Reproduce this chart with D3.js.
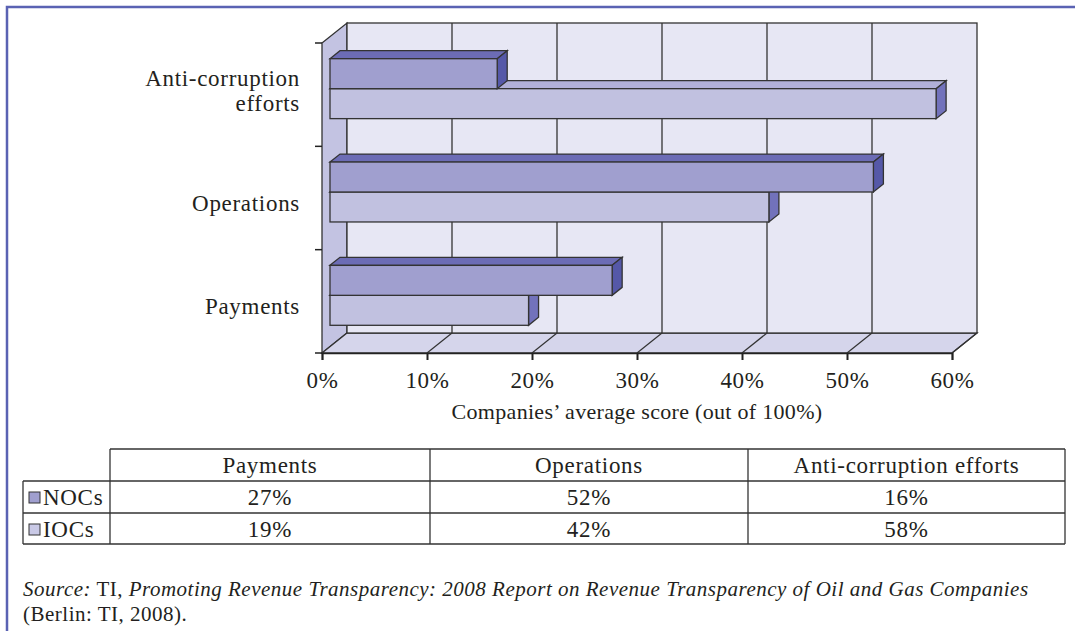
<!DOCTYPE html>
<html lang="en">
<head>
  <meta charset="utf-8">
  <script src="https://d3js.org/d3.v7.min.js"></script>
  <style>
    body {
      margin: 0;
      background: #fff;
    }

    text {
      font-family: "Liberation Serif", serif;
      fill: #231f20;
    }

    .lbl {
      font-size: 23px;
      letter-spacing: 0.7px;
    }

    .edge {
      stroke: #333;
      stroke-width: 1.3px;
    }
  </style>
</head>
<body>
<div id="chart"></div>
<script>
  // data
  var categories = ["Anti-corruption efforts", "Operations", "Payments"];
  var series = ["NOCs", "IOCs"];
  var nocs = [16, 52, 27];
  var iocs = [58, 42, 19];
  var xTicks = [0, 10, 20, 30, 40, 50, 60];
  var tableCols = ["Payments", "Operations", "Anti-corruption efforts"];
  var tableNocs = ["27%", "52%", "16%"];
  var tableIocs = ["19%", "42%", "58%"];

  var W = 1075, H = 631;
  var depth = {dx: 25, dy: -20};     // back wall offset
  var barShift = {dx: 8, dy: -6};     // bar plane offset
  var barDepth = {dx: 10, dy: -8};

  var svg = d3.select("#chart").append("svg")
          .attr("width", W)
          .attr("height", H);

  // frame
  svg.append("path")
          .attr("d", "M7,631 V7 H1075")
          .attr("fill", "none")
          .attr("stroke", "#5a62b3")
          .attr("stroke-width", 2.5);

  var x = d3.scaleLinear().domain([0, 60]).range([322, 952]);
  var y = d3.scaleBand().domain(categories).range([43, 353]);
  var xb = d3.scaleLinear().domain([0, 60]).range([x(0) + barShift.dx, x(60) + barShift.dx - 3]);
  var yb = d3.scaleBand().domain(categories)
          .range([43 + barShift.dy, 353 + barShift.dy])
          .paddingInner(0.42).paddingOuter(0.21);
  var ys = d3.scaleBand().domain(series).range([0, yb.bandwidth()]);

  var yTop = y.range()[0], yBot = y.range()[1];
  var x0 = x(0), x1 = x(60);

  function poly(pts) {
    return "M" + pts.map(function (p) { return p.join(","); }).join("L") + "Z";
  }

  // walls
  svg.append("path").attr("class", "edge")
          .attr("d", poly([[x0, yTop], [x0 + depth.dx, yTop + depth.dy], [x0 + depth.dx, yBot + depth.dy], [x0, yBot]]))
          .attr("fill", "#c3c3e2");
  svg.append("path").attr("class", "edge")
          .attr("d", poly([[x0, yBot], [x0 + depth.dx, yBot + depth.dy], [x1 + depth.dx, yBot + depth.dy], [x1, yBot]]))
          .attr("fill", "#d5d5eb");
  svg.append("rect").attr("class", "edge")
          .attr("x", x0 + depth.dx).attr("y", yTop + depth.dy)
          .attr("width", x1 - x0).attr("height", yBot - yTop)
          .attr("fill", "#e7e7f4");

  // grid on back wall and floor
  svg.selectAll(".grid").data(xTicks.slice(1, -1)).enter().append("line")
          .attr("class", "edge grid")
          .attr("x1", function (d) { return x(d) + depth.dx; })
          .attr("x2", function (d) { return x(d) + depth.dx; })
          .attr("y1", yTop + depth.dy).attr("y2", yBot + depth.dy);
  svg.selectAll(".floorgrid").data(xTicks.slice(1)).enter().append("line")
          .attr("class", "edge floorgrid")
          .attr("x1", function (d) { return x(d); })
          .attr("x2", function (d) { return x(d) + depth.dx; })
          .attr("y1", yBot).attr("y2", yBot + depth.dy);

  // axes
  var xAxis = d3.axisBottom(x).tickValues(xTicks).tickSize(7).tickPadding(12)
          .tickFormat(function (d) { return d + "%"; });
  var gX = svg.append("g").attr("transform", "translate(0," + yBot + ")").call(xAxis);
  gX.attr("font-size", null).attr("font-family", null);
  gX.select(".domain").attr("stroke", "#222").attr("stroke-width", 1.5);
  gX.selectAll(".tick line").attr("stroke", "#222").attr("stroke-width", 2);
  gX.selectAll(".tick text").attr("class", "lbl").attr("fill", "#231f20");

  var catTicks = [yTop].concat(categories.map(function (c) { return y(c) + y.bandwidth(); }));
  svg.selectAll(".ctick").data(catTicks).enter().append("line")
          .attr("x1", x0 - 7).attr("x2", x0)
          .attr("y1", function (d) { return d; }).attr("y2", function (d) { return d; })
          .attr("stroke", "#222").attr("stroke-width", 1.5);

  // category labels
  svg.selectAll(".cat").data(categories).enter().append("text")
          .attr("class", "lbl cat")
          .attr("text-anchor", "end")
          .attr("x", 300)
          .attr("y", function (d) { return y(d) + y.bandwidth() / 2 + 13; })
          .each(function (d) {
            var parts = d === "Anti-corruption efforts" ? ["Anti-corruption", "efforts"] : [d];
            var t = d3.select(this);
            if (parts.length > 1) t.attr("y", y(d) + y.bandwidth() / 2 - 9);
            parts.forEach(function (p, i) {
              t.append("tspan").attr("x", 300).attr("dy", i ? 25 : 0).text(p);
            });
          });

  svg.append("text")
          .attr("x", (x0 + x1) / 2).attr("y", 419)
          .attr("text-anchor", "middle")
          .style("font-size", "22px").style("letter-spacing", "0.3px")
          .text("Companies\u2019 average score (out of 100%)");

  // bars
  var colors = {
    NOCs: {front: "#a09fcf", top: "#6c6cb5", side: "#5558a8"},
    IOCs: {front: "#c1c1e0", top: "#b1b0d8", side: "#7272bb"}
  };
  var barData = [];
  categories.forEach(function (c, i) {
    barData.push({cat: c, s: "IOCs", v: iocs[i]});
    barData.push({cat: c, s: "NOCs", v: nocs[i]});
  });

  var bars = svg.selectAll(".bar").data(barData).enter().append("g").attr("class", "bar");
  bars.each(function (d) {
    var g = d3.select(this);
    var bx0 = xb(0), bx1 = xb(d.v);
    var by = yb(d.cat) + ys(d.s), bh = ys.bandwidth();
    var c = colors[d.s];
    g.append("path").attr("class", "edge").attr("fill", c.top)
            .attr("d", poly([[bx0, by], [bx0 + barDepth.dx, by + barDepth.dy], [bx1 + barDepth.dx, by + barDepth.dy], [bx1, by]]));
    g.append("path").attr("class", "edge").attr("fill", c.side)
            .attr("d", poly([[bx1, by], [bx1 + barDepth.dx, by + barDepth.dy], [bx1 + barDepth.dx, by + bh + barDepth.dy], [bx1, by + bh]]));
    g.append("rect").attr("class", "edge").attr("fill", c.front)
            .attr("x", bx0).attr("y", by).attr("width", bx1 - bx0).attr("height", bh);
  });

  // data table
  var colX = [110, 430, 748, 1065];
  var rowY = [449, 481, 513, 544];
  var legX = 23;
  var tg = svg.append("g").attr("class", "table");
  var lineAttr = function (sel) { sel.attr("stroke", "#333").attr("stroke-width", 1.3); };

  tg.append("line").attr("x1", colX[0]).attr("x2", colX[3]).attr("y1", rowY[0]).attr("y2", rowY[0]).call(lineAttr);
  [1, 2, 3].forEach(function (r) {
    tg.append("line").attr("x1", legX).attr("x2", colX[3]).attr("y1", rowY[r]).attr("y2", rowY[r]).call(lineAttr);
  });
  tg.append("line").attr("x1", legX).attr("x2", legX).attr("y1", rowY[1]).attr("y2", rowY[3]).call(lineAttr);
  colX.forEach(function (cx) {
    tg.append("line").attr("x1", cx).attr("x2", cx).attr("y1", rowY[0]).attr("y2", rowY[3]).call(lineAttr);
  });

  tableCols.forEach(function (h, i) {
    var cx = (colX[i] + colX[i + 1]) / 2;
    tg.append("text").attr("class", "lbl").attr("text-anchor", "middle")
            .attr("x", cx).attr("y", rowY[0] + 24).text(h);
    tg.append("text").attr("class", "lbl").attr("text-anchor", "middle")
            .attr("x", cx).attr("y", rowY[1] + 24).text(tableNocs[i]);
    tg.append("text").attr("class", "lbl").attr("text-anchor", "middle")
            .attr("x", cx).attr("y", rowY[2] + 24).text(tableIocs[i]);
  });

  series.forEach(function (s, i) {
    var ry = rowY[i + 1];
    tg.append("rect").attr("x", 29).attr("y", ry + 11).attr("width", 11).attr("height", 11)
            .attr("fill", s === "NOCs" ? "#a09fcf" : "#c9c9e6")
            .attr("stroke", "#333").attr("stroke-width", 1);
    tg.append("text").attr("class", "lbl").attr("x", 43).attr("y", ry + 24).text(s);
  });

  // source note
  var src = svg.append("text").attr("x", 23).attr("y", 596)
          .style("font-size", "21px").style("letter-spacing", "0.5px");
  src.append("tspan").style("font-style", "italic").text("Source:");
  src.append("tspan").text(" TI, ");
  src.append("tspan").style("font-style", "italic")
          .text("Promoting Revenue Transparency: 2008 Report on Revenue Transparency of Oil and Gas Companies");
  svg.append("text").attr("x", 23).attr("y", 621)
          .style("font-size", "21px").style("letter-spacing", "0.5px")
          .text("(Berlin: TI, 2008).");
</script>
</body>
</html>
